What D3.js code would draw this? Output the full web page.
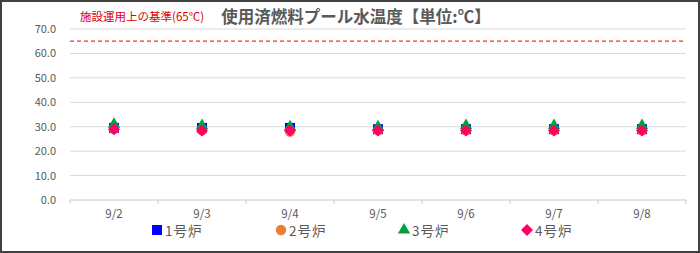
<!DOCTYPE html>
<html>
<head>
<meta charset="utf-8">
<script src="https://cdn.jsdelivr.net/npm/d3@7"></script>
<style>
  body { margin: 0; background: #fff; }
  svg { display: block; font-family: "Noto Sans CJK JP", "Noto Sans", sans-serif; }
</style>
</head>
<body>
<div id="chart"></div>
<script>
// data
const dates = ["9/2", "9/3", "9/4", "9/5", "9/6", "9/7", "9/8"];
const unit1 = [29.5, 29.5, 29.5, 29, 29, 29, 29];
const unit2 = [29, 28.5, 28, 28.5, 28.5, 28.5, 28.5];
const unit3 = [31, 30.5, 30, 30, 30.5, 30.5, 30.5];
const unit4 = [29, 28.5, 28.5, 28.5, 28.5, 28.5, 28.5];
const seriesNames = ["1号炉", "2号炉", "3号炉", "4号炉"];
const yTicks = [0, 10, 20, 30, 40, 50, 60, 70];
const limitValue = 65;

const width = 700, height = 253;
const margin = {top: 29, right: 14, bottom: 53, left: 70};

const svg = d3.select("#chart").append("svg")
  .attr("width", width)
  .attr("height", height);

// frame
svg.append("rect")
  .attr("x", 1).attr("y", 1)
  .attr("width", width - 2).attr("height", height - 2)
  .attr("fill", "#fff")
  .attr("stroke", "#404040")
  .attr("stroke-width", 2);

const x = d3.scaleBand().domain(dates).range([margin.left, width - margin.right]);
const y = d3.scaleLinear().domain([0, 70]).range([height - margin.bottom, margin.top]);

// gridlines
svg.append("g").selectAll("line")
  .data(yTicks)
  .join("line")
  .attr("x1", margin.left).attr("x2", width - margin.right)
  .attr("y1", d => y(d)).attr("y2", d => y(d))
  .attr("stroke", d => d === 0 ? "#c8c8c8" : "#d9d9d9")
  .attr("stroke-width", 1);

// y labels
svg.append("g").selectAll("text")
  .data(yTicks)
  .join("text")
  .attr("x", 56)
  .attr("y", d => y(d) + 4)
  .attr("text-anchor", "end")
  .attr("font-size", 11)
  .attr("fill", "#595959")
  .text(d => d.toFixed(1));

// x ticks at band edges
const edges = dates.map(d => x(d)).concat([x.range()[1]]);
svg.append("g").selectAll("line")
  .data(edges)
  .join("line")
  .attr("x1", d => d).attr("x2", d => d)
  .attr("y1", y(0)).attr("y2", y(0) + 4)
  .attr("stroke", "#c8c8c8");

// x labels
svg.append("g").selectAll("text")
  .data(dates)
  .join("text")
  .attr("x", d => x(d) + x.bandwidth() / 2)
  .attr("y", 218)
  .attr("text-anchor", "middle")
  .attr("font-size", 11.5)
  .attr("fill", "#595959")
  .text(d => d);

// limit line
svg.append("line")
  .attr("x1", margin.left).attr("x2", width - margin.right)
  .attr("y1", y(limitValue)).attr("y2", y(limitValue))
  .attr("stroke", "#ff2a2a")
  .attr("stroke-width", 1.2)
  .attr("stroke-dasharray", "4,3");

svg.append("text")
  .attr("x", 80).attr("y", 21)
  .attr("font-size", 11.5)
  .attr("fill", "#e00000")
  .text("施設運用上の基準(65℃)");

// title
svg.append("text")
  .attr("x", 356).attr("y", 23)
  .attr("text-anchor", "middle")
  .attr("font-size", 16.5)
  .attr("font-weight", "bold")
  .attr("fill", "#595959")
  .text("使用済燃料プール水温度【単位:℃】");

// square rotated 45 degrees, like the spreadsheet diamond marker
const flatDiamond = {
  draw(ctx, size) {
    const r = Math.sqrt(size / 2);
    ctx.moveTo(0, -r);
    ctx.lineTo(r, 0);
    ctx.lineTo(0, r);
    ctx.lineTo(-r, 0);
    ctx.closePath();
  }
};

// markers
const cx = (d, i) => x(dates[i]) + x.bandwidth() / 2;
const symbols = [
  {data: unit1, type: d3.symbolSquare, size: 100, color: "#0000ff"},
  {data: unit2, type: d3.symbolCircle, size: 85, color: "#ed7d31"},
  {data: unit3, type: d3.symbolTriangle, size: 65, color: "#00a040"},
  {data: unit4, type: flatDiamond, size: 72, color: "#ff0066"}
];

symbols.forEach(s => {
  svg.append("g").selectAll("path")
    .data(s.data)
    .join("path")
    .attr("transform", (d, i) => `translate(${cx(d, i)},${y(d)})`)
    .attr("d", d3.symbol().type(s.type).size(s.size))
    .attr("fill", s.color);
});

// legend
const legendX = [157, 281, 404, 527];
const legend = svg.append("g").selectAll("g")
  .data(symbols)
  .join("g")
  .attr("transform", (d, i) => `translate(${legendX[i]},230)`);

legend.append("path")
  .attr("d", d => d3.symbol().type(d.type).size(d.size)())
  .attr("fill", d => d.color);

legend.append("text")
  .attr("x", 8)
  .attr("y", 5.5)
  .attr("font-size", 13.5)
  .attr("letter-spacing", 1)
  .attr("fill", "#595959")
  .text((d, i) => seriesNames[i]);
</script>
</body>
</html>
